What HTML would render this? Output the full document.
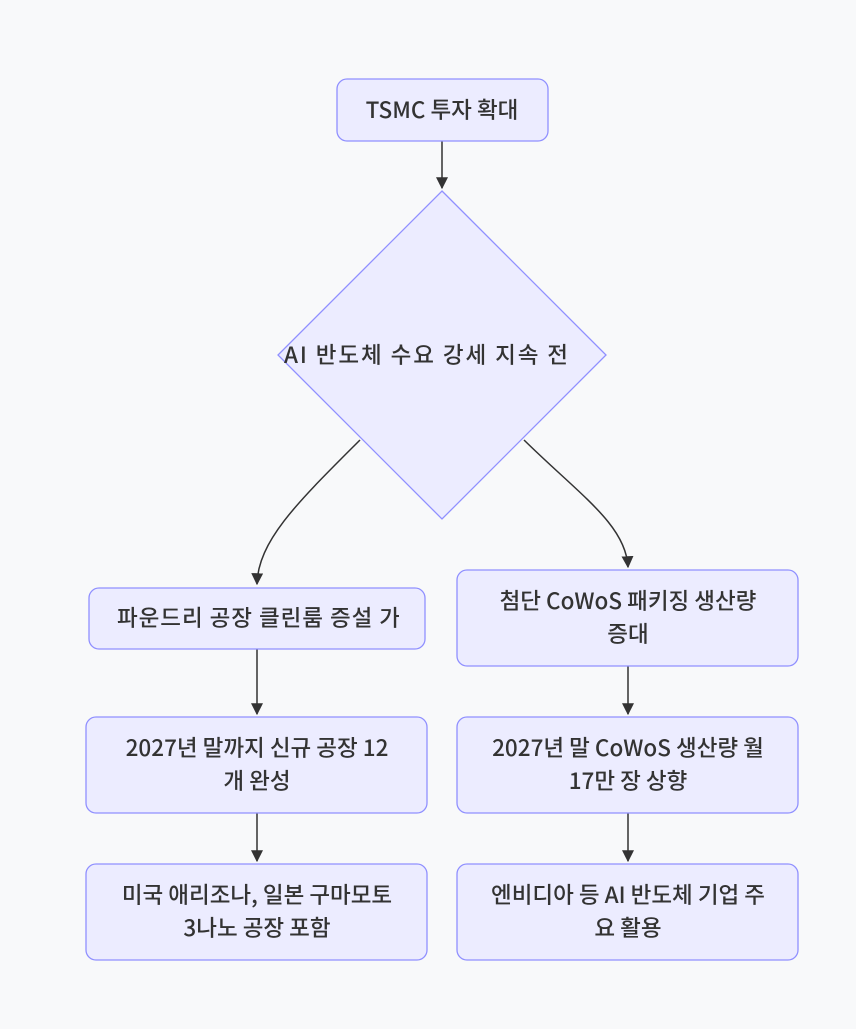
<!DOCTYPE html>
<html><head><meta charset="utf-8"><style>
html,body{margin:0;padding:0;background:#f8f9fa;}
svg text{font-family:"Noto Sans CJK KR","Liberation Sans",sans-serif;font-size:22.5px;font-weight:500;fill:#333;text-anchor:middle;}
svg text.s{text-anchor:start;}
</style></head><body>
<svg width="856" height="1024" viewBox="0 0 856 1024" xmlns="http://www.w3.org/2000/svg">
<defs><marker id="a" viewBox="0 0 10 10" refX="9" refY="5" markerWidth="8" markerHeight="8" orient="auto"><path d="M0,0 L10,5 L0,10 z" fill="#333"/></marker>
<clipPath id="c1"><rect x="0" y="0" width="575" height="1024"/></clipPath>
<clipPath id="c2"><rect x="0" y="0" width="399" height="1024"/></clipPath></defs>
<rect width="856" height="1024" fill="#f8f9fa"/>
<g fill="none" stroke="#333" stroke-width="1.5" marker-end="url(#a)">
<path d="M442,141 L442,188"/>
<path d="M360,440 C300,500 258,540 257,584"/>
<path d="M524,440 C580,495 626,525 628,567"/>
<path d="M257,649 L257,714"/>
<path d="M257,813 L257,861"/>
<path d="M628,666 L628,714"/>
<path d="M628,813 L628,861"/>
</g>
<g fill="#ececff" stroke="#9090ff" stroke-width="1.3">
<rect x="337" y="79" width="211" height="62" rx="10"/>
<polygon points="442,191 606,355 442,519 278,355"/>
<rect x="89" y="588" width="336" height="61" rx="10"/>
<rect x="457" y="570" width="341" height="96" rx="10"/>
<rect x="86" y="717" width="341" height="96" rx="10"/>
<rect x="457" y="717" width="341" height="96" rx="10"/>
<rect x="86" y="864" width="341" height="96" rx="10"/>
<rect x="457" y="864" width="341" height="96" rx="10"/>
</g>
<text x="442" y="118">TSMC 투자 확대</text>
<g clip-path="url(#c1)"><text class="s" x="284" y="363" textLength="284" lengthAdjust="spacing">AI 반도체 수요 강세 지속 전</text></g>
<g clip-path="url(#c2)"><text class="s" x="117" y="626" textLength="283" lengthAdjust="spacing">파운드리 공장 클린룸 증설 가</text></g>
<text x="628" y="609">첨단 CoWoS 패키징 생산량</text>
<text x="628" y="642">증대</text>
<text x="257" y="756">2027년 말까지 신규 공장 12</text>
<text x="257" y="789">개 완성</text>
<text x="628" y="756">2027년 말 CoWoS 생산량 월</text>
<text x="628" y="789">17만 장 상향</text>
<text x="257" y="903">미국 애리조나, 일본 구마모토</text>
<text x="257" y="936">3나노 공장 포함</text>
<text x="628" y="903">엔비디아 등 AI 반도체 기업 주</text>
<text x="628" y="936">요 활용</text>
</svg>
</body></html>
